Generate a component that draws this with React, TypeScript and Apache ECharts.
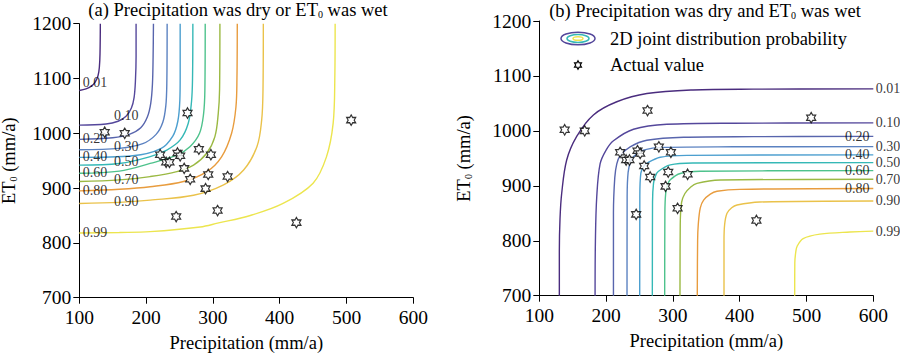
import React, { useEffect, useRef } from 'react';
import * as echarts from 'echarts';

const FONT = 'Liberation Serif';

// contour levels and colours
const levels = ['0.01', '0.10', '0.20', '0.30', '0.40', '0.50', '0.60', '0.70', '0.80', '0.90', '0.99'];
const levelColors = ['#4a2c7e', '#54479b', '#5865ad', '#5b82c1', '#4c9fcf', '#35b8b6', '#4ec28c', '#9bb943', '#e89c3e', '#eac24a', '#ece54e'];

// actual values
const precipitation = [138, 168, 262, 507, 221, 247, 251, 230, 235, 279, 297, 257, 266, 293, 322, 289, 307, 245, 425];
const et0 = [1002, 1000, 1037, 1024, 961, 964, 959, 947, 947, 971, 961, 936, 916, 925, 921, 899, 859, 848, 837];

// (a) "or" joint probability contours, [precipitation, ET0]
const or001 = [[100, 1078], [110, 1081], [118, 1086], [124, 1094], [128, 1105], [130, 1120], [131, 1145], [131.5, 1200]];
const or010 = [[100, 1015], [140, 1017], [158, 1022], [170, 1031], [178, 1046], [182, 1065], [184, 1095], [185, 1140], [185, 1200]];
const or020 = [[100, 989], [150, 992], [175, 998], [192, 1010], [202, 1030], [207, 1055], [209.5, 1090], [210.5, 1140], [211, 1200]];
const or030 = [[100, 970], [160, 972.5], [195, 981], [215, 998], [225, 1020], [229.5, 1050], [231, 1090], [231.5, 1200]];
const or040 = [[100, 956], [180, 959], [222, 972], [240, 995], [247.5, 1022], [250.5, 1060], [251, 1100], [251, 1200]];
const or050 = [[100, 942], [160, 945], [205, 957], [231, 969.5], [251, 988], [263, 1018], [268, 1058], [269.5, 1100], [270, 1200]];
const or060 = [[100, 927], [160, 931], [206, 945], [246, 960], [266, 976], [280, 1000], [286, 1035], [288, 1080], [288.5, 1200]];
const or070 = [[100, 912], [160, 915], [206, 921], [246, 930], [271, 942], [291, 964], [303, 994], [308, 1036], [310, 1080], [310.5, 1200]];
const or080 = [[100, 895], [160, 898], [206, 902.5], [256, 912], [291, 930], [313, 957], [328, 1000], [334.5, 1048], [336, 1100], [336.5, 1200]];
const or090 = [[100, 872], [160, 874], [206, 878], [271, 887], [316, 906], [346, 933], [366, 976], [373, 1024], [375, 1080], [375.5, 1200]];
const or099 = [[100, 818], [160, 819], [206, 820.5], [281, 829], [307, 836], [356, 850], [405, 872], [450, 909], [470, 957], [480, 1018], [482.5, 1100], [483, 1200]];

// (b) "and" joint probability contours
const and001 = [[130, 700], [130, 780], [131, 840], [133.5, 886], [141, 947], [156, 990], [181, 1029], [216, 1053], [261, 1068], [330, 1074.5], [420, 1076], [600, 1076.5]];
const and010 = [[183.5, 700], [184, 800], [186, 880], [191, 940], [200, 965], [211, 982], [241, 1003], [291, 1012], [390, 1014], [600, 1014.5]];
const and020 = [[211, 700], [211, 850], [213, 915], [216, 940], [221, 955], [236, 971], [261, 983], [316, 988.5], [420, 989.5], [600, 990]];
const and030 = [[231.3, 700], [231.5, 880], [233, 925], [237, 945], [241, 953], [256, 965], [286, 970], [390, 971], [600, 971.4]];
const and040 = [[250.3, 700], [250.5, 880], [252, 923], [256, 935], [261, 941], [281, 952], [321, 955.5], [600, 956.3]];
const and050 = [[269.2, 700], [269.5, 870], [271, 905], [274, 918], [278, 926], [296, 938], [331, 941.5], [600, 942.3]];
const and060 = [[287.7, 700], [288, 850], [289.2, 886], [292, 902], [296, 911], [311, 922.5], [341, 926.5], [600, 927.7]];
const and070 = [[310.6, 700], [311, 830], [313, 870], [318, 886], [326, 897], [336, 904.5], [371, 910.5], [600, 912]];
const and080 = [[336.5, 700], [337, 800], [338, 830], [341, 860], [346, 874], [356, 885], [366, 890], [400, 893.5], [600, 895]];
const and090 = [[376.5, 700], [376.5, 800], [377.5, 830], [381, 850], [388, 860], [396, 865], [430, 870.5], [600, 872.5]];
const and099 = [[482.3, 700], [482.5, 760], [484, 780], [486, 790], [495, 804], [520, 812], [565, 816], [600, 817.5]];

const orContours = [or001, or010, or020, or030, or040, or050, or060, or070, or080, or090, or099];
const andContours = [and001, and010, and020, and030, and040, and050, and060, and070, and080, and090, and099];

const xTicks = { min: 100, max: 600, interval: 100 };
const yTicks = { min: 700, max: 1200, interval: 100 };

const STAR_PATH = 'M0,-10L2.887,-5L8.66,-5L5.774,0L8.66,5L2.887,5L0,10L-2.887,5L-8.66,5L-5.774,0L-8.66,-5L-2.887,-5Z';
try {
  echarts.graphic.registerShape('hexstar', echarts.graphic.extendPath(STAR_PATH, {}) as any);
} catch (e) { /* already registered */ }

function yAt(curve: number[][], x: number): number {
  for (let i = 0; i < curve.length - 1; i++) {
    const [x0, y0] = curve[i];
    const [x1, y1] = curve[i + 1];
    if (x >= x0 && x <= x1) return x1 === x0 ? y0 : y0 + ((y1 - y0) * (x - x0)) / (x1 - x0);
  }
  return curve[curve.length - 1][1];
}

const richSub = {
  sub: { fontSize: 10, lineHeight: 6, verticalAlign: 'bottom', fontFamily: FONT, color: '#000' },
};

function buildOption() {
  const labelFont = { fontFamily: FONT, fontSize: 14, color: '#000' };
  const axisBase = {
    type: 'value',
    axisLine: { show: true, onZero: false, lineStyle: { color: '#000', width: 1 } },
    axisTick: { show: true, inside: false, length: 6, lineStyle: { color: '#000', width: 1 } },
    axisLabel: { color: '#000', fontFamily: FONT, fontSize: 19.5, formatter: (v: number) => String(v) },
    splitLine: { show: false },
    nameLocation: 'middle',
  };
  const xAxis = [0, 1].map((g) => ({
    ...axisBase,
    gridIndex: g,
    ...xTicks,
    name: 'Precipitation (mm/a)',
    nameGap: 36,
    nameTextStyle: { color: '#000', fontFamily: FONT, fontSize: 18.5, lineHeight: 18 },
    axisLabel: { ...axisBase.axisLabel, margin: 10 },
  }));
  const yAxis = [0, 1].map((g) => ({
    ...axisBase,
    gridIndex: g,
    ...yTicks,
    name: 'ET{sub|0} (mm/a)',
    nameRotate: 90,
    nameGap: g === 0 ? 61 : 66,
    nameTextStyle: { color: '#000', fontFamily: FONT, fontSize: 18.5, lineHeight: 18.5, rich: richSub },
    axisLabel: { ...axisBase.axisLabel, margin: 8 },
  }));

  const series: any[] = [];
  orContours.forEach((c, i) => {
    series.push({
      type: 'line', name: 'or ' + levels[i], xAxisIndex: 0, yAxisIndex: 0, data: c,
      showSymbol: false, symbol: 'none', smooth: 0.35, silent: true,
      lineStyle: { color: levelColors[i], width: 1.4 }, z: 2,
    });
  });
  andContours.forEach((c, i) => {
    series.push({
      type: 'line', name: 'and ' + levels[i], xAxisIndex: 1, yAxisIndex: 1, data: c,
      showSymbol: false, symbol: 'none', smooth: 0.35, silent: true,
      lineStyle: { color: levelColors[i], width: 1.4 }, z: 2,
    });
  });

  // contour labels (a): two staggered columns placed on the curves
  const labelXA = [123.5, 170.4];
  series.push({
    type: 'scatter', xAxisIndex: 0, yAxisIndex: 0, symbolSize: 1, silent: true, z: 5, clip: false,
    itemStyle: { color: 'rgba(0,0,0,0)' },
    data: orContours.map((c, i) => {
      const x = labelXA[i % 2 === 0 || i === 10 ? 0 : 1];
      return { value: [x, yAt(c, x)], label: { show: true, position: 'inside', formatter: levels[i], ...labelFont } };
    }),
  });
  // contour labels (b): at the right end
  const innerX = 575.9;
  series.push({
    type: 'scatter', xAxisIndex: 1, yAxisIndex: 1, symbolSize: 1, silent: true, z: 5, clip: false,
    itemStyle: { color: 'rgba(0,0,0,0)' },
    data: andContours.map((c, i) => {
      const inner = i % 2 === 0 && i !== 0 && i !== 10;
      const x = inner ? innerX : 600;
      return {
        value: [x, yAt(c, x)],
        label: inner
          ? { show: true, position: 'inside', formatter: levels[i], ...labelFont }
          : { show: true, position: 'right', distance: 2, formatter: levels[i], ...labelFont },
      };
    }),
  });

  const pts = precipitation.map((p, i) => [p, et0[i]]);
  [0, 1].forEach((g) => {
    series.push({
      type: 'scatter', name: 'Actual value', xAxisIndex: g, yAxisIndex: g, data: pts,
      symbol: 'path://' + STAR_PATH, symbolSize: [9, 10.5], silent: true, z: 6,
      itemStyle: { color: '#fff', borderColor: '#000', borderWidth: 1.2 },
    });
  });

  const titleStyle = { color: '#000', fontFamily: FONT, fontSize: 18.5, fontWeight: 'normal', lineHeight: 19, rich: richSub };

  return {
    animation: false,
    backgroundColor: '#fff',
    textStyle: { fontFamily: FONT },
    title: [
      { text: '(a) Precipitation was dry or ET{sub|0} was wet', left: 238, top: 0, textAlign: 'center', textStyle: titleStyle, padding: 0 },
      { text: '(b) Precipitation was dry and ET{sub|0} was wet', left: 705, top: 1, textAlign: 'center', textStyle: titleStyle, padding: 0 },
    ],
    grid: [
      { left: 79.3, top: 23.7, width: 334, height: 274, containLabel: false, outerBoundsMode: 'none' },
      { left: 539.3, top: 21, width: 334, height: 274.7, containLabel: false, outerBoundsMode: 'none' },
    ],
    xAxis,
    yAxis,
    series,
    graphic: [
      { type: 'ellipse', shape: { cx: 578, cy: 38.5, rx: 17, ry: 6.3 }, style: { fill: 'none', stroke: levelColors[1], lineWidth: 1.5 } },
      { type: 'ellipse', shape: { cx: 578, cy: 38.5, rx: 11, ry: 4 }, style: { fill: 'none', stroke: levelColors[5], lineWidth: 1.5 } },
      { type: 'ellipse', shape: { cx: 578, cy: 38.5, rx: 5, ry: 1.8 }, style: { fill: 'none', stroke: levelColors[10], lineWidth: 1.5 } },
      { type: 'text', x: 610, y: 38.5, style: { text: '2D joint distribution probability', fontFamily: FONT, fontSize: 18.5, fill: '#000', verticalAlign: 'middle', align: 'left' } },
      { type: 'hexstar', x: 578, y: 65, scaleX: 0.4, scaleY: 0.42, style: { fill: '#fff', stroke: '#000', lineWidth: 1.2, strokeNoScale: true } },
      { type: 'text', x: 610, y: 65, style: { text: 'Actual value', fontFamily: FONT, fontSize: 18.5, fill: '#000', verticalAlign: 'middle', align: 'left' } },
    ],
  };
}

export default function App() {
  const ref = useRef<HTMLDivElement>(null);
  useEffect(() => {
    if (!ref.current) return;
    document.body.style.margin = '0';
    const chart = echarts.init(ref.current, null, { renderer: 'svg' });
    chart.setOption(buildOption() as any);
    return () => chart.dispose();
  }, []);
  return <div ref={ref} style={{ position: 'absolute', left: 0, top: 0, width: 900, height: 354, background: '#fff' }} />;
}
